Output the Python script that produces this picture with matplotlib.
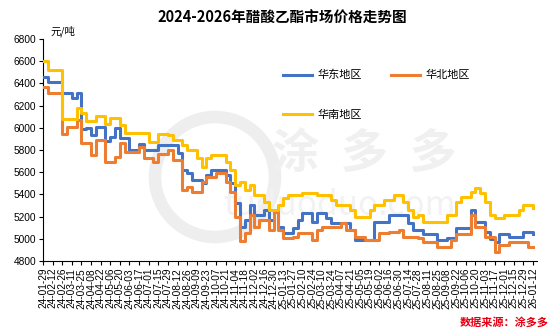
import pandas as pd
import numpy as np
import matplotlib
matplotlib.use("Agg")
import matplotlib.pyplot as plt
from matplotlib.lines import Line2D
from matplotlib.patches import Circle

plt.rcParams['font.family'] = ['Noto Sans CJK SC', 'DejaVu Sans']

# weekly prices, yuan/ton, starting 2024-01-29
dates = pd.date_range('2024-01-29', periods=103, freq='7D')

east = [6460, 6410, 6410, 6410, 6310, 6310, 6270, 6310, 5990, 6000,
        5930, 6010, 6010, 5880, 5920, 6000, 5910, 5910, 5800, 5800,
        5850, 5800, 5800, 5800, 5840, 5840, 5845, 5845, 5770, 5620,
        5590, 5530, 5530, 5500, 5575, 5620, 5620, 5620, 5575, 5500,
        5320, 5110, 5170, 5305, 5215, 5215, 5260, 5170, 5260, 5110,
        5050, 5050, 5095, 5170, 5230, 5230, 5155, 5230, 5230, 5185,
        5140, 5140, 5140, 5140, 5080, 4990, 4990, 4990, 4990, 5155,
        5155, 5155, 5215, 5215, 5215, 5215, 5140, 5080, 5080, 5040,
        5040, 5040, 4990, 4990, 5005, 5005, 5095, 5095, 5095, 5260,
        5155, 5155, 5065, 5000, 4975, 5040, 5040, 5020, 5020, 5020,
        5065, 5065, 5040]

north = [6370, 6310, 6310, 6310, 5940, 6010, 6010, 6070, 5860, 5860,
         5755, 5890, 5890, 5695, 5695, 5740, 5860, 5785, 5785, 5785,
         5830, 5730, 5730, 5690, 5760, 5760, 5800, 5710, 5710, 5440,
         5470, 5425, 5425, 5515, 5560, 5560, 5590, 5590, 5515, 5425,
         5200, 4980, 5050, 5215, 5110, 5170, 5170, 5080, 5245, 5080,
         5005, 5005, 5020, 5050, 5050, 5050, 4990, 5080, 5110, 5110,
         5110, 5110, 5140, 5080, 5080, 5020, 5020, 4990, 4990, 4990,
         5050, 5050, 5065, 5065, 5080, 5020, 5020, 5020, 5005, 4975,
         4975, 4975, 4930, 4930, 4930, 4990, 5040, 5040, 5040, 5215,
         5110, 5110, 5020, 5020, 4885, 4945, 4945, 4975, 4975, 4975,
         4975, 4930, 4930]

south = [6600, 6520, 6520, 6520, 6080, 6080, 6080, 6180, 6130, 6060,
         6060, 6110, 6110, 6030, 6090, 6090, 6020, 5950, 5950, 5950,
         5950, 5950, 5870, 5870, 5945, 5945, 5935, 5890, 5890, 5845,
         5800, 5800, 5725, 5650, 5725, 5755, 5755, 5755, 5695, 5620,
         5485, 5515, 5440, 5485, 5395, 5395, 5335, 5260, 5260, 5305,
         5365, 5395, 5395, 5395, 5410, 5410, 5410, 5395, 5395, 5395,
         5350, 5305, 5305, 5305, 5260, 5200, 5200, 5200, 5260, 5305,
         5305, 5350, 5350, 5395, 5395, 5335, 5260, 5200, 5215, 5155,
         5155, 5155, 5155, 5155, 5215, 5215, 5335, 5380, 5380, 5420,
         5455, 5410, 5335, 5215, 5185, 5185, 5215, 5215, 5215, 5260,
         5305, 5305, 5275]

series_names = ['华东地区', '华北地区', '华南地区']
colors = ['#4472C4', '#ED7D31', '#FFC000']

fig = plt.figure(figsize=(5.54, 3.32), dpi=100)
ax = fig.add_axes([0.0776, 0.2139, 0.892, 0.669])

# faint watermark behind the data
ax.add_patch(Circle((2.15, 1.55), 0.6, transform=fig.dpi_scale_trans,
                    facecolor='none', edgecolor='#eeeeee', lw=9, zorder=0))
ax.text(0.65, 0.48, '涂  多  多', transform=ax.transAxes, ha='center',
        va='center', fontsize=34, fontweight='bold', color='#f0f0f0', zorder=0)
ax.text(0.60, 0.25, 'tuduoduo.com', transform=ax.transAxes, ha='center',
        va='center', fontsize=24, color='#f2f2f2', zorder=0)

for vals, c in zip([east, north, south], colors):
    ax.plot(dates, vals, color=c, lw=2.2, drawstyle='steps-post', zorder=3)

ax.set_ylim(4800, 6800)
ax.set_yticks(np.arange(4800, 6801, 200))
ax.set_xlim(pd.Timestamp('2024-01-29'), pd.Timestamp('2026-01-18'))
ticks = pd.date_range('2024-01-29', '2026-01-12', freq='14D')
ax.set_xticks(ticks)
ax.set_xticklabels([d.strftime('%y-%m-%d') for d in ticks], rotation=90,
                   fontsize=7.3, family=['Liberation Sans', 'DejaVu Sans'])
for lab in ax.get_yticklabels():
    lab.set_fontsize(7.3)
    lab.set_family(['Liberation Sans', 'DejaVu Sans'])

ax.spines['top'].set_visible(False)
ax.spines['right'].set_visible(False)
ax.tick_params(axis='both', direction='out', length=3, width=0.8, pad=2)

fig.text(0.51, 0.945, '2024-2026年醋酸乙酯市场价格走势图', ha='center',
         va='center', fontsize=10.5, fontweight='bold')
fig.text(0.092, 0.905, '元/吨', ha='left', va='center', fontsize=7.5)

handles = [Line2D([], [], color=colors[0], lw=2.2),
           Line2D([], [], color=colors[2], lw=2.2),
           Line2D([], [], color=colors[1], lw=2.2)]
labels = [series_names[0], series_names[2], series_names[1]]
ax.legend(handles, labels, ncol=2, loc='upper left',
          bbox_to_anchor=(0.465, 0.905), frameon=False, fontsize=8,
          handlelength=2.6, handletextpad=0.5, columnspacing=2.6,
          labelspacing=2.6)

fig.text(0.99, 0.03, '数据来源：涂多多', ha='right', va='center',
         fontsize=8, fontweight='bold', color='#E60012')

fig.savefig('out.png', dpi=100)
